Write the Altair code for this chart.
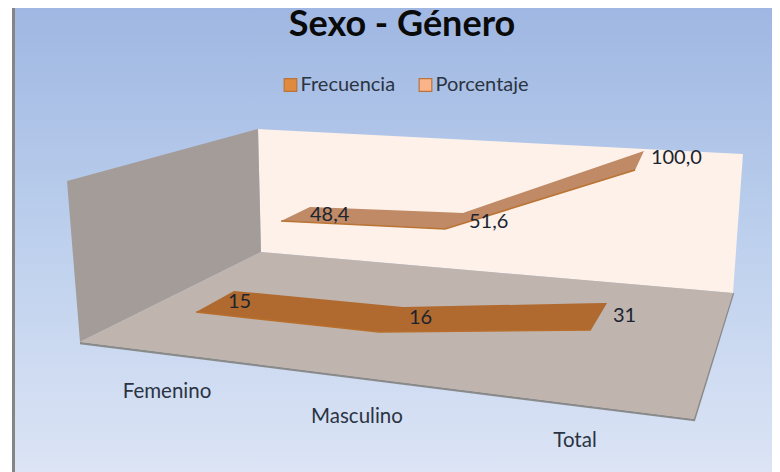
import altair as alt
import numpy as np
import pandas as pd

TITLE = "Sexo - Género"
CATEGORIES = ["Femenino", "Masculino", "Total"]
SERIES = ["Frecuencia", "Porcentaje"]
FRECUENCIA = [15, 16, 31]
PORCENTAJE = [48.4, 51.6, 100.0]
LABELS_F = ["15", "16", "31"]
LABELS_P = ["48,4", "51,6", "100,0"]

# Oblique view of each series ribbon: origin, step per category, step per value unit
VIEW = {
    "Frecuencia": {
        "front": ((165.0, 335.6), (180.9, 21.57), (2.07, -1.571)),
        "back": ((196.5, 312.4), (166.5, 17.43), (2.5, -1.43)),
    },
    "Porcentaje": {
        "front": ((253.2, 292.7), (162.2, 12.74), (0.575, -1.482)),
        "back": ((280.0, 279.8), (151.0, 10.8), (0.619, -1.504)),
    },
}
# Room frame
FLOOR = [(80, 342), (694, 419), (733, 293), (261, 252)]
LEFT_WALL = [(67, 181), (258, 129), (261, 252), (80, 342)]
BACK_WALL = [(258, 129), (743, 154), (733, 293), (261, 252)]
FLOOR_EDGE = [(80, 343), (694, 420), (733, 293)]
# Category labels along the front edge of the floor
AXIS_POS = [(167, 392), (357, 417), (575, 441)]
# Label offset from the back edge of the ribbon
OFFS_F = [(-6, 11), (6, 11), (6, 13)]
OFFS_P = [(0, 8), (6, 9), (7, 7)]

X = alt.Scale(domain=[8, 772], range=[0, 764], nice=False, zero=False)
Y = alt.Scale(domain=[8, 472], range=[0, 464], nice=False, zero=False)


def project(edge, i, v):
    (x0, y0), (ax, ay), (bx, by) = edge
    return (x0 + ax * i + bx * v, y0 + ay * i + by * v)


def poly_area(points, color):
    """Draw an x-monotone polygon as an area with upper and lower boundaries."""
    pts = list(points) + [points[0]]
    xs = sorted({p[0] for p in points})
    rows = []
    for x in xs:
        ys = []
        for (x1, y1), (x2, y2) in zip(pts[:-1], pts[1:]):
            if min(x1, x2) <= x <= max(x1, x2):
                if x1 == x2:
                    ys += [y1, y2]
                else:
                    ys.append(y1 + (y2 - y1) * (x - x1) / (x2 - x1))
        rows.append({"x": x, "y": min(ys), "y2": max(ys)})
    return alt.Chart(pd.DataFrame(rows)).mark_area(color=color, opacity=1, interpolate="linear").encode(
        x=alt.X("x:Q", scale=X, axis=None),
        y=alt.Y("y:Q", scale=Y, axis=None),
        y2="y2:Q",
    )


def polyline(points, color, width):
    df = pd.DataFrame({"x": [p[0] for p in points], "y": [p[1] for p in points], "o": range(len(points))})
    return alt.Chart(df).mark_line(color=color, strokeWidth=width).encode(
        x=alt.X("x:Q", scale=X, axis=None),
        y=alt.Y("y:Q", scale=Y, axis=None),
        order="o:Q",
    )


def ribbon(name, values, fill, edge):
    front = [project(VIEW[name]["front"], i, v) for i, v in enumerate(values)]
    back = [project(VIEW[name]["back"], i, v) for i, v in enumerate(values)]
    return [poly_area(front + back[::-1], fill), polyline(front, edge, 1.6)], back


bg = alt.Chart(pd.DataFrame({"x": [15], "x2": [772], "y": [8], "y2": [472]})).mark_rect(
    color=alt.Gradient(
        gradient="linear", x1=0, x2=0, y1=0, y2=1,
        stops=[
            alt.GradientStop(offset=0, color="#9fb7e2"),
            alt.GradientStop(offset=0.5, color="#bdd0ed"),
            alt.GradientStop(offset=1, color="#dce4f5"),
        ],
    )
).encode(
    x=alt.X("x:Q", scale=X, axis=None), x2="x2:Q",
    y=alt.Y("y:Q", scale=Y, axis=None), y2="y2:Q",
)
border = polyline([(13.5, 8), (13.5, 472)], "#858585", 3)

layers = [
    bg, border,
    polyline(FLOOR_EDGE, "#8a8a8a", 2.5),
    poly_area(BACK_WALL, "#fdf1e9"),
    poly_area(LEFT_WALL, "#a49c98"),
    poly_area(FLOOR, "#bfb4ae"),
]

rib_f, back_f = ribbon("Frecuencia", FRECUENCIA, "#b0692e", "#b86e2c")
rib_p, back_p = ribbon("Porcentaje", PORCENTAJE, "#bf8a65", "#bb7433")
layers += rib_f + rib_p

lab_rows = []
for back, offs, labs in ((back_f, OFFS_F, LABELS_F), (back_p, OFFS_P, LABELS_P)):
    for (bx, by), (dx, dy), t in zip(back, offs, labs):
        lab_rows.append({"x": bx + dx, "y": by + dy, "t": t})
layers.append(
    alt.Chart(pd.DataFrame(lab_rows)).mark_text(
        font="Lato", fontSize=20, align="left", baseline="middle", color="#1b2430"
    ).encode(x=alt.X("x:Q", scale=X, axis=None), y=alt.Y("y:Q", scale=Y, axis=None), text="t:N")
)

cat_rows = [{"x": p[0], "y": p[1], "t": c} for p, c in zip(AXIS_POS, CATEGORIES)]
layers.append(
    alt.Chart(pd.DataFrame(cat_rows)).mark_text(
        font="Lato", fontSize=20.5, align="center", baseline="middle", color="#2b3442"
    ).encode(x=alt.X("x:Q", scale=X, axis=None), y=alt.Y("y:Q", scale=Y, axis=None), text="t:N")
)

legend_layer = alt.Chart(pd.DataFrame({"s": SERIES, "x": [300, 400], "y": [84, 84]})).mark_point(
    filled=True, size=0, shape="square", opacity=1
).encode(
    x=alt.X("x:Q", scale=X, axis=None),
    y=alt.Y("y:Q", scale=Y, axis=None),
    color=alt.Color(
        "s:N",
        scale=alt.Scale(domain=SERIES, range=["#df8a3e", "#fbb48a"]),
        legend=alt.Legend(
            orient="none", legendX=272.5, legendY=67, direction="horizontal", title=None,
            symbolType="square", symbolSize=160, symbolStrokeColor="#b8743c", symbolStrokeWidth=1.2,
            symbolOpacity=1,
            labelFont="Lato", labelFontSize=20, labelColor="#2b3442", labelOffset=0,
            columnPadding=20,
        ),
    ),
)
layers.append(legend_layer)

chart = alt.layer(*layers).properties(
    width=764,
    height=464,
    padding=0,
    autosize=alt.AutoSizeParams(type="none"),
    background="#ffffff",
    title=alt.TitleParams(
        TITLE, font="Lato", fontSize=36, fontWeight="bold", color="#0a0a0a",
        anchor="middle", offset=0, dy=42, dx=12,
    ),
).configure_view(stroke=None)

chart.save("out.html", embed_options={"renderer": "svg", "actions": False})
